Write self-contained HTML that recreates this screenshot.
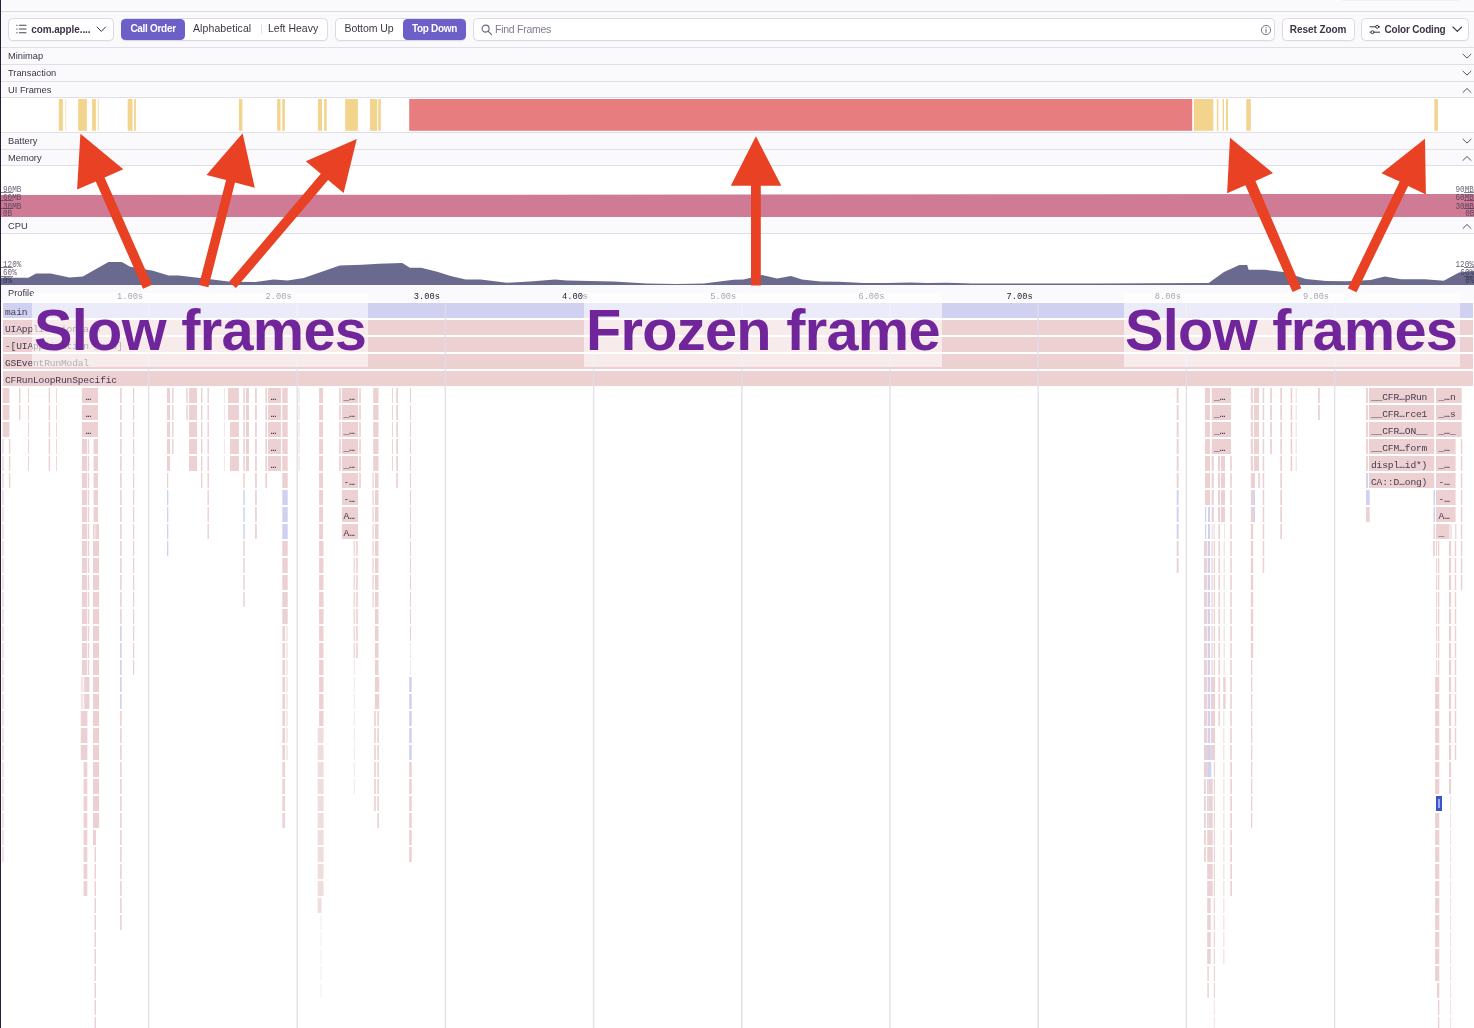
<!DOCTYPE html>
<html lang="en"><head><meta charset="utf-8"><title>Profile flamegraph</title>
<style>
html,body{margin:0;padding:0}
body{width:1474px;height:1028px;position:relative;overflow:hidden;background:#fff;font-family:"Liberation Sans",sans-serif;color:#3e3446}
div,i,b,span,svg{position:absolute;display:block;box-sizing:border-box}
span.g,span.t,span.e{position:static;display:inline}
span.e{letter-spacing:-3.9px;margin-left:-1.8px;margin-right:2px}
.bg{left:0;width:1474px;background:#faf9fb}
.hl{left:0;width:1474px;height:1.3px;background:#e2dee8}
.btn{background:#fff;border:1px solid #ddd8e4;border-radius:4.5px;top:18px;height:23px;box-shadow:0 1px 1px rgba(43,34,51,.03)}
.tx{white-space:nowrap;font-size:10.5px;line-height:12px;top:3.4px;color:#3e3446}
.tb{font-weight:bold;font-size:10px;top:4.7px;transform:scaleY(1.06);transform-origin:50% 60%}
.act{background:#6c5fc7;border-radius:4.5px;top:0;height:21px}
.act .tx{color:#fff;top:4px}
.pl{left:8px;font-size:9.3px;line-height:11px;color:#3e3446;white-space:nowrap}
.chev{left:1461.5px;width:10px;height:7px}
#fg{left:0;top:0;width:1474px;height:1028px}
.fl{font-family:"Liberation Mono",monospace;font-weight:normal;font-size:9.6px;letter-spacing:-.16px;line-height:11px;white-space:nowrap;margin-top:3.8px}
.fl .g{color:inherit}
.tl{font-family:"Liberation Mono",monospace;font-size:8.7px;line-height:11px;top:291.5px;width:60px;text-align:right;color:#2b2233;white-space:nowrap}
.ax{font-family:"Liberation Mono",monospace;font-size:9.5px;line-height:9px;color:rgba(62,52,80,.78);white-space:nowrap;transform:scaleX(.805);transform-origin:0 50%}
.axr{transform-origin:100% 50%}
.tick{height:1px;background:rgba(62,52,80,.62);left:1px;width:12px}
.gl{top:302.3px;width:1.4px;height:726px;background:rgba(214,208,224,.62)}
.ov{top:292.5px;height:74px;background:rgba(255,255,255,.58)}
.big{font-weight:bold;font-size:57.7px;line-height:60px;color:#70269a;white-space:nowrap;top:299.9px;letter-spacing:-.7px}
#all{left:0;top:0;width:1474px;height:1028px;will-change:transform}
</style></head><body>
<div id="all">
<!-- page backgrounds -->
<div class="bg" style="top:0;height:97.5px"></div>
<div class="bg" style="top:132px;height:34px"></div>
<div class="bg" style="top:217px;height:17px"></div>
<div class="bg" style="top:284.8px;height:17.6px"></div>
<!-- faint shadow of element above -->
<div style="left:1342px;top:0;width:118px;height:1px;background:#f3f1f5"></div>
<!-- horizontal rules -->
<div class="hl" style="top:10.8px;background:#dcd7e3"></div>
<div class="hl" style="top:46.6px"></div>
<div class="hl" style="top:63.8px"></div>
<div class="hl" style="top:80.9px"></div>
<div class="hl" style="top:97.2px"></div>
<div class="hl" style="top:131.9px"></div>
<div class="hl" style="top:148.9px"></div>
<div class="hl" style="top:164.8px"></div>
<div class="hl" style="top:233.1px"></div>

<!-- toolbar -->
<div class="btn" style="left:7.6px;width:106px">
  <svg style="left:7.5px;top:4.8px" width="11" height="10" viewBox="0 0 11 10"><g stroke="#4d4358" stroke-width="1.1" fill="none" stroke-linecap="round"><path d="M3.4 1.3H10M3.4 5H10M3.4 8.7H10"/><path d="M0.7 1.3H1.1M0.7 5H1.1M0.7 8.7H1.1"/></g></svg>
  <span class="tx tb" style="left:22.6px;letter-spacing:-.1px">com.apple....</span>
  <svg style="left:87.6px;top:7px" width="11" height="7" viewBox="0 0 11 7"><path d="M1 1l4.3 4.4L9.6 1" stroke="#3e3446" stroke-width="1" fill="none" stroke-linecap="round" stroke-linejoin="round"/></svg>
</div>
<div class="btn" style="left:121px;width:206.5px">
  <div class="act" style="left:-1px;width:64px"><span class="tx tb" style="left:9.4px;letter-spacing:-.3px">Call Order</span></div>
  <span class="tx" style="left:71px;letter-spacing:.09px">Alphabetical</span>
  <i style="left:138.6px;top:5.2px;width:1px;height:9.5px;background:#e4e0ea"></i>
  <span class="tx" style="left:146px;letter-spacing:0px">Left Heavy</span>
</div>
<div class="btn" style="left:335.3px;width:131px">
  <span class="tx" style="left:8.2px;letter-spacing:-.05px">Bottom Up</span>
  <div class="act" style="left:66.6px;width:63.4px"><span class="tx tb" style="left:9px;letter-spacing:-.3px">Top Down</span></div>
</div>
<div class="btn" style="left:473.3px;width:801.3px">
  <svg style="left:6.6px;top:5px" width="12" height="12" viewBox="0 0 12 12"><circle cx="4.6" cy="4.6" r="3.5" stroke="#6f6480" stroke-width="1.1" fill="none"/><path d="M7.3 7.3L10.6 10.6" stroke="#6f6480" stroke-width="1.2" stroke-linecap="round"/></svg>
  <span class="tx" style="left:20.8px;top:4.3px;color:#857993;letter-spacing:-.27px">Find Frames</span>
  <svg style="left:785.5px;top:4.6px" width="12" height="12" viewBox="0 0 12 12"><circle cx="6" cy="6" r="4.6" stroke="#6f6480" stroke-width=".9" fill="none"/><path d="M6 5.4V8.4" stroke="#6f6480" stroke-width="1" stroke-linecap="round"/><circle cx="6" cy="3.7" r=".6" fill="#6f6480"/></svg>
</div>
<div class="btn" style="left:1282.2px;width:72.5px"><span class="tx tb" style="left:6.6px;letter-spacing:-.06px">Reset Zoom</span></div>
<div class="btn" style="left:1361.4px;width:107.2px">
  <svg style="left:6.6px;top:5px" width="12" height="11" viewBox="0 0 12 11"><g stroke="#3e3446" stroke-width="1" fill="none" stroke-linecap="round"><path d="M1 2.8H6.6M9.8 2.8H10.6"/><circle cx="8.2" cy="2.8" r="1.5"/><path d="M5.6 8.2H10.6M1 8.2H1.6"/><circle cx="3.5" cy="8.2" r="1.5"/></g></svg>
  <span class="tx tb" style="left:22.2px;letter-spacing:-.2px">Color Coding</span>
  <svg style="left:89.6px;top:7.2px" width="11" height="7" viewBox="0 0 11 7"><path d="M1 1l4.3 4.4L9.6 1" stroke="#3e3446" stroke-width="1.1" fill="none" stroke-linecap="round" stroke-linejoin="round"/></svg>
</div>

<!-- panel labels -->
<span class="pl" style="top:51.1px">Minimap</span>
<span class="pl" style="top:68.2px">Transaction</span>
<span class="pl" style="top:85.3px">UI Frames</span>
<span class="pl" style="top:136.2px">Battery</span>
<span class="pl" style="top:153.2px">Memory</span>
<span class="pl" style="top:221.2px">CPU</span>
<span class="pl" style="top:287.6px">Profile</span>
<!-- chevrons -->
<svg class="chev" style="top:52.7px" viewBox="0 0 10 7"><path d="M1 1.2l4 3.9 4-3.9" stroke="#5b5066" stroke-width="1" fill="none" stroke-linecap="round" stroke-linejoin="round"/></svg>
<svg class="chev" style="top:69.8px" viewBox="0 0 10 7"><path d="M1 1.2l4 3.9 4-3.9" stroke="#5b5066" stroke-width="1" fill="none" stroke-linecap="round" stroke-linejoin="round"/></svg>
<svg class="chev" style="top:86.6px" viewBox="0 0 10 7"><path d="M1 5.4l4-3.9 4 3.9" stroke="#5b5066" stroke-width="1" fill="none" stroke-linecap="round" stroke-linejoin="round"/></svg>
<svg class="chev" style="top:137.8px" viewBox="0 0 10 7"><path d="M1 1.2l4 3.9 4-3.9" stroke="#5b5066" stroke-width="1" fill="none" stroke-linecap="round" stroke-linejoin="round"/></svg>
<svg class="chev" style="top:154.5px" viewBox="0 0 10 7"><path d="M1 5.4l4-3.9 4 3.9" stroke="#5b5066" stroke-width="1" fill="none" stroke-linecap="round" stroke-linejoin="round"/></svg>
<svg class="chev" style="top:222.5px" viewBox="0 0 10 7"><path d="M1 5.4l4-3.9 4 3.9" stroke="#5b5066" stroke-width="1" fill="none" stroke-linecap="round" stroke-linejoin="round"/></svg>

<!-- UI frames chart -->
<svg style="left:0;top:99px" width="1474" height="32" viewBox="0 0 1474 32" shape-rendering="auto">
<g fill="#f3d48c">
<rect x="58.8" y="0" width="4.1" height="31.8"/><rect x="65" y="0" width="1.4" height="31.8" opacity=".45"/>
<rect x="78.2" y="0" width="8.7" height="31.8"/>
<rect x="92.1" y="0" width="3.8" height="31.8"/><rect x="97.7" y="0" width="1.1" height="31.8" opacity=".7"/>
<rect x="127.7" y="0" width="4.8" height="31.8"/><rect x="134.1" y="0" width="1.8" height="31.8"/>
<rect x="239" y="0" width="3.4" height="31.8"/>
<rect x="277.2" y="0" width="3.3" height="31.8"/><rect x="282.3" y="0" width="2.6" height="31.8"/>
<rect x="317.9" y="0" width="4.1" height="31.8"/><rect x="324.1" y="0" width="2.6" height="31.8"/>
<rect x="345.2" y="0" width="12.7" height="31.8"/>
<rect x="370" y="0" width="7.2" height="31.8"/><rect x="378.2" y="0" width="2.6" height="31.8"/>
</g>
<rect x="409.2" y="0" width="783" height="31.8" fill="#e87d80"/>
<g fill="#f3d48c"><rect x="1193.9" y="0" width="19.4" height="31.8"/><rect x="1216.8" y="0" width="1.5" height="31.8"/><rect x="1222.6" y="0" width="1.4" height="31.8"/><rect x="1226.1" y="0" width="1.9" height="31.8"/><rect x="1246.3" y="0" width="4.5" height="31.8"/><rect x="1434.4" y="0" width="3.5" height="31.8"/></g>
</svg>

<div id="fg">
<svg style="left:0;top:0" width="1474" height="1028" viewBox="0 0 1474 1028"><path fill="#d0d0f1" d="M3 303.1h1470v14.9h-1470z"/>
<path fill="#ecd0d2" d="M3 320.1h1470v14.9h-1470zM3 337.1h1470v14.9h-1470zM3 354.1h1470v14.9h-1470zM3 371.1h1470v14.9h-1470zM2.8 388.1h6.6v14.9h-6.6zM2.8 405.1h6.6v14.9h-6.6zM2.8 422.1h6.6v14.9h-6.6zM2.3 439.1h1.2v14.9h-1.2zM2.3 456.1h1.2v14.9h-1.2zM2.3 473.1h1.2v14.9h-1.2zM2.3 490.1h1.2v14.9h-1.2zM2.3 507.1h1.2v14.9h-1.2zM2.3 524.1h1.2v14.9h-1.2zM2.3 541.1h1.2v14.9h-1.2zM2.3 558.1h1.2v14.9h-1.2zM2.3 575.1h1.2v14.9h-1.2zM2.3 592.1h1.2v14.9h-1.2zM2.3 609.1h1.2v14.9h-1.2zM2.3 626.1h1.2v14.9h-1.2zM2.3 643.1h1.2v14.9h-1.2zM2.3 660.1h1.2v14.9h-1.2zM2.3 677.1h1.2v14.9h-1.2zM2.3 694.1h1.2v14.9h-1.2zM2.3 711.1h1.2v14.9h-1.2zM2.3 728.1h1.2v14.9h-1.2zM2.3 745.1h1.2v14.9h-1.2zM2.3 762.1h1.2v14.9h-1.2zM2.3 779.1h1.2v14.9h-1.2zM2.3 796.1h1.2v14.9h-1.2zM2.3 813.1h1.2v14.9h-1.2zM2.3 830.1h1.2v14.9h-1.2zM2.3 847.1h1.2v14.9h-1.2zM8.9 439.1h1.4v14.9h-1.4zM8.9 456.1h1.4v14.9h-1.4zM8.9 473.1h1.4v14.9h-1.4zM19 388.1h1.4v14.9h-1.4zM19 405.1h1.4v14.9h-1.4zM28 388.1h0.9v14.9h-0.9zM28 405.1h0.9v14.9h-0.9zM28 422.1h0.9v14.9h-0.9zM28 439.1h0.9v14.9h-0.9zM28 456.1h0.9v14.9h-0.9zM48.7 388.1h1.4v14.9h-1.4zM48.7 405.1h1.4v14.9h-1.4zM48.7 422.1h1.4v14.9h-1.4zM48.7 439.1h1.4v14.9h-1.4zM48.7 456.1h1.4v14.9h-1.4zM56 388.1h0.8v14.9h-0.8zM56 405.1h0.8v14.9h-0.8zM56 422.1h0.8v14.9h-0.8zM56 439.1h0.8v14.9h-0.8zM56 456.1h0.8v14.9h-0.8zM81.9 388.1h16.1v14.9h-16.1zM81.9 405.1h16.1v14.9h-16.1zM81.9 422.1h16.1v14.9h-16.1zM81.9 439.1h5v14.9h-5zM81.9 456.1h5v14.9h-5zM81.9 473.1h5v14.9h-5zM81.9 490.1h5v14.9h-5zM81.9 507.1h5v14.9h-5zM81.9 524.1h5v14.9h-5zM81.9 541.1h5v14.9h-5zM81.9 558.1h5v14.9h-5zM81.9 575.1h5v14.9h-5zM81.9 592.1h5v14.9h-5zM81.9 609.1h5v14.9h-5zM81.9 626.1h5v14.9h-5zM81.9 643.1h5v14.9h-5zM81.9 660.1h5v14.9h-5zM87.8 439.1h1.4v14.9h-1.4zM87.8 456.1h1.4v14.9h-1.4zM87.8 473.1h1.4v14.9h-1.4zM87.8 490.1h1.4v14.9h-1.4zM87.8 507.1h1.4v14.9h-1.4zM87.8 524.1h1.4v14.9h-1.4zM87.8 541.1h1.4v14.9h-1.4zM87.8 558.1h1.4v14.9h-1.4zM87.8 575.1h1.4v14.9h-1.4zM87.8 592.1h1.4v14.9h-1.4zM87.8 609.1h1.4v14.9h-1.4zM87.8 626.1h1.4v14.9h-1.4zM87.8 643.1h1.4v14.9h-1.4zM87.8 660.1h1.4v14.9h-1.4z"/>
<path fill="#f4e4e5" d="M80.8 677.1h2.6v14.9h-2.6zM80.8 694.1h2.6v14.9h-2.6z"/>
<path fill="#ecd0d2" d="M84.2 677.1h5.2v14.9h-5.2zM84.2 694.1h5.2v14.9h-5.2zM80.8 711.1h6.6v14.9h-6.6zM80.8 728.1h6.6v14.9h-6.6zM80.8 745.1h6.6v14.9h-6.6zM83.6 762.1h3.7v14.9h-3.7zM83.6 779.1h3.7v14.9h-3.7zM83.6 796.1h3.7v14.9h-3.7zM83.6 813.1h3.7v14.9h-3.7zM83.6 830.1h3.7v14.9h-3.7zM83.6 847.1h3.7v14.9h-3.7zM83.6 864.1h3.7v14.9h-3.7zM83.6 881.1h3.7v14.9h-3.7zM93.6 439.1h4.4v14.9h-4.4zM93.6 456.1h4.4v14.9h-4.4zM93.6 473.1h4.4v14.9h-4.4zM93.6 490.1h4.4v14.9h-4.4zM93.6 507.1h4.4v14.9h-4.4zM93 524.1h6v14.9h-6z"/>
<path fill="#ffffff" d="M94.3 524.1h0.4v14.9h-0.4zM95.7 524.1h0.4v14.9h-0.4z"/>
<path fill="#ecd0d2" d="M93 541.1h6.1v14.9h-6.1zM93 558.1h6.1v14.9h-6.1zM93 575.1h6.1v14.9h-6.1zM93 592.1h6.1v14.9h-6.1zM93 609.1h6.1v14.9h-6.1zM93 626.1h6.1v14.9h-6.1zM93 643.1h6.1v14.9h-6.1zM93 660.1h6.1v14.9h-6.1zM93 677.1h6.1v14.9h-6.1zM93 694.1h6.1v14.9h-6.1zM93 711.1h6.1v14.9h-6.1zM93 728.1h6.1v14.9h-6.1zM93 745.1h6.1v14.9h-6.1zM93 762.1h6.1v14.9h-6.1zM93 779.1h6.1v14.9h-6.1zM93 796.1h6.1v14.9h-6.1zM93 813.1h6.1v14.9h-6.1zM93 830.1h3v14.9h-3zM94.6 847.1h1.4v14.9h-1.4zM94.6 864.1h1.4v14.9h-1.4zM94.6 881.1h1.4v14.9h-1.4zM94.6 898.1h1.4v14.9h-1.4zM94.6 915.1h1.4v14.9h-1.4zM94.6 932.1h1.4v14.9h-1.4zM94.6 949.1h1.4v14.9h-1.4zM94.6 966.1h1.4v14.9h-1.4zM94.6 983.1h1.4v14.9h-1.4zM94.6 1000.1h1.4v14.9h-1.4zM94.6 1017.1h1.4v14.9h-1.4zM120.1 388.1h1.6v14.9h-1.6zM120.1 405.1h1.6v14.9h-1.6zM120.1 422.1h1.6v14.9h-1.6zM120.1 439.1h1.6v14.9h-1.6zM120.1 456.1h1.6v14.9h-1.6zM120.1 473.1h1.6v14.9h-1.6zM120.1 490.1h1.6v14.9h-1.6zM120.1 507.1h1.6v14.9h-1.6zM120.1 524.1h1.6v14.9h-1.6zM120.1 541.1h1.6v14.9h-1.6zM120.1 558.1h1.6v14.9h-1.6zM120.1 575.1h1.6v14.9h-1.6zM120.1 592.1h1.6v14.9h-1.6zM120.1 609.1h1.6v14.9h-1.6z"/>
<path fill="#d0d0f1" d="M120.1 626.1h1.6v14.9h-1.6zM120.1 643.1h1.6v14.9h-1.6zM120.1 660.1h1.6v14.9h-1.6zM120.1 677.1h1.6v14.9h-1.6zM120.1 694.1h1.6v14.9h-1.6z"/>
<path fill="#ecd0d2" d="M120.1 711.1h1.6v14.9h-1.6zM120.1 728.1h1.6v14.9h-1.6zM120.1 745.1h1.6v14.9h-1.6zM120.1 762.1h1.6v14.9h-1.6zM120.1 779.1h1.6v14.9h-1.6zM120.1 796.1h1.6v14.9h-1.6zM120.1 813.1h1.6v14.9h-1.6zM120.1 830.1h1.6v14.9h-1.6zM120.1 847.1h1.6v14.9h-1.6zM120.1 864.1h1.6v14.9h-1.6zM120.1 881.1h1.6v14.9h-1.6zM120.1 898.1h1.6v14.9h-1.6zM120.1 915.1h1.6v14.9h-1.6zM132.9 388.1h1.3v14.9h-1.3zM132.9 405.1h1.3v14.9h-1.3zM132.9 422.1h1.3v14.9h-1.3zM132.9 439.1h1.3v14.9h-1.3zM132.9 456.1h1.3v14.9h-1.3zM132.9 473.1h1.3v14.9h-1.3zM132.9 490.1h1.3v14.9h-1.3zM132.9 507.1h1.3v14.9h-1.3zM132.9 524.1h1.3v14.9h-1.3zM132.9 541.1h1.3v14.9h-1.3zM132.9 558.1h1.3v14.9h-1.3zM132.9 575.1h1.3v14.9h-1.3zM132.9 592.1h1.3v14.9h-1.3zM132.9 609.1h1.3v14.9h-1.3zM132.9 626.1h1.3v14.9h-1.3zM132.9 643.1h1.3v14.9h-1.3zM132.9 660.1h1.3v14.9h-1.3zM167 388.1h3v14.9h-3zM167 405.1h3v14.9h-3zM167 422.1h3v14.9h-3zM167 439.1h3v14.9h-3zM167 456.1h3v14.9h-3zM167 473.1h1.2v14.9h-1.2z"/>
<path fill="#d0d0f1" d="M167 490.1h1.3v14.9h-1.3zM167 507.1h1.3v14.9h-1.3zM167 524.1h1.3v14.9h-1.3zM167 541.1h1.3v14.9h-1.3z"/>
<path fill="#ecd0d2" d="M172.1 388.1h1.4v14.9h-1.4zM172.1 405.1h1.4v14.9h-1.4zM172.1 422.1h1.4v14.9h-1.4zM172.1 439.1h1.4v14.9h-1.4zM186.3 388.1h1.4v14.9h-1.4zM186.3 405.1h1.4v14.9h-1.4zM189.1 388.1h8v14.9h-8zM189.1 405.1h8v14.9h-8zM189.1 422.1h8v14.9h-8zM189.1 439.1h8v14.9h-8zM189.1 456.1h8v14.9h-8zM201 388.1h1.4v14.9h-1.4zM201 405.1h1.4v14.9h-1.4zM201 422.1h1.4v14.9h-1.4zM201 439.1h1.4v14.9h-1.4zM201 456.1h1.4v14.9h-1.4zM201 473.1h1.4v14.9h-1.4zM207.5 388.1h1.4v14.9h-1.4zM207.5 405.1h1.4v14.9h-1.4zM207.5 422.1h1.4v14.9h-1.4zM207.5 439.1h1.4v14.9h-1.4zM207.5 456.1h1.4v14.9h-1.4zM207.5 473.1h1.4v14.9h-1.4zM207.5 490.1h1.4v14.9h-1.4zM207.5 507.1h1.4v14.9h-1.4zM207.5 524.1h1.4v14.9h-1.4z"/>
<path fill="#f4e4e5" d="M224 388.1h0.9v14.9h-0.9zM224 405.1h0.9v14.9h-0.9zM224 422.1h0.9v14.9h-0.9zM224 439.1h0.9v14.9h-0.9zM224 456.1h0.9v14.9h-0.9z"/>
<path fill="#ecd0d2" d="M228.1 388.1h1.9v14.9h-1.9zM228.1 405.1h1.9v14.9h-1.9zM230 388.1h8.9v14.9h-8.9zM230 405.1h8.9v14.9h-8.9zM230 422.1h8.9v14.9h-8.9zM230 439.1h8.9v14.9h-8.9zM230 456.1h8.9v14.9h-8.9zM243.3 388.1h1.5v14.9h-1.5zM243.3 405.1h1.5v14.9h-1.5zM243.3 422.1h1.5v14.9h-1.5zM243.3 439.1h1.5v14.9h-1.5zM243.3 456.1h1.5v14.9h-1.5zM243.3 473.1h1.5v14.9h-1.5z"/>
<path fill="#d0d0f1" d="M243.3 490.1h1.5v14.9h-1.5zM243.3 507.1h1.5v14.9h-1.5zM243.3 524.1h1.5v14.9h-1.5z"/>
<path fill="#ecd0d2" d="M243.3 541.1h1.5v14.9h-1.5zM243.3 558.1h1.5v14.9h-1.5zM243.3 575.1h1.5v14.9h-1.5zM243.3 592.1h1.5v14.9h-1.5zM246 388.1h3v14.9h-3zM246 405.1h3v14.9h-3zM246 422.1h3v14.9h-3zM246 439.1h3v14.9h-3zM246 456.1h3v14.9h-3zM255.1 388.1h1.7v14.9h-1.7zM255.1 405.1h1.7v14.9h-1.7zM255.1 422.1h1.7v14.9h-1.7zM255.1 439.1h1.7v14.9h-1.7zM255.1 456.1h1.7v14.9h-1.7zM255.1 473.1h1.7v14.9h-1.7zM255.1 490.1h1.7v14.9h-1.7zM255.1 507.1h1.7v14.9h-1.7zM255.1 524.1h1.7v14.9h-1.7zM265.4 388.1h1.6v14.9h-1.6zM265.4 405.1h1.6v14.9h-1.6zM265.4 422.1h1.6v14.9h-1.6zM265.4 439.1h1.6v14.9h-1.6zM265.4 456.1h1.6v14.9h-1.6zM265.4 473.1h1.6v14.9h-1.6zM268 388.1h12.9v14.9h-12.9zM268 405.1h12.9v14.9h-12.9zM268 422.1h12.9v14.9h-12.9zM268 439.1h12.9v14.9h-12.9zM268 456.1h12.9v14.9h-12.9zM282.3 388.1h5.4v14.9h-5.4zM282.3 405.1h5.4v14.9h-5.4zM282.3 422.1h5.4v14.9h-5.4zM282.3 439.1h5.4v14.9h-5.4zM282.3 456.1h5.4v14.9h-5.4zM282.3 473.1h5.4v14.9h-5.4z"/>
<path fill="#d0d0f1" d="M282.3 490.1h5.4v14.9h-5.4zM282.3 507.1h5.4v14.9h-5.4zM282.3 524.1h5.4v14.9h-5.4z"/>
<path fill="#ecd0d2" d="M282.3 541.1h5.4v14.9h-5.4zM282.3 558.1h5.4v14.9h-5.4zM282.3 575.1h5.4v14.9h-5.4zM282.3 592.1h5.4v14.9h-5.4zM282.3 609.1h5.4v14.9h-5.4zM282.4 626.1h2.6v14.9h-2.6zM282.4 643.1h2.6v14.9h-2.6zM282.4 660.1h2.6v14.9h-2.6zM282.4 677.1h2.6v14.9h-2.6zM282.4 694.1h2.6v14.9h-2.6zM282.4 711.1h2.6v14.9h-2.6zM282.4 728.1h2.6v14.9h-2.6zM282.4 745.1h2.6v14.9h-2.6zM282.4 762.1h2.6v14.9h-2.6zM282.4 779.1h2.6v14.9h-2.6zM282.4 796.1h2.6v14.9h-2.6zM282.4 813.1h2.6v14.9h-2.6z"/>
<path fill="#f4e4e5" d="M286.2 626.1h1.5v14.9h-1.5zM286.2 643.1h1.5v14.9h-1.5zM286.2 660.1h1.5v14.9h-1.5zM286.2 677.1h1.5v14.9h-1.5zM286.2 694.1h1.5v14.9h-1.5zM286.2 711.1h1.5v14.9h-1.5zM286.2 728.1h1.5v14.9h-1.5zM286.2 745.1h1.5v14.9h-1.5zM298.3 388.1h1.3v14.9h-1.3zM298.3 405.1h1.3v14.9h-1.3zM298.3 422.1h1.3v14.9h-1.3zM298.3 439.1h1.3v14.9h-1.3zM298.3 456.1h1.3v14.9h-1.3z"/>
<path fill="#ecd0d2" d="M319.1 388.1h3.9v14.9h-3.9zM319.1 405.1h3.9v14.9h-3.9zM319.1 422.1h3.9v14.9h-3.9zM319.1 439.1h3.9v14.9h-3.9zM319.1 456.1h3.9v14.9h-3.9zM319.1 473.1h3.9v14.9h-3.9zM319.1 490.1h3.9v14.9h-3.9zM319.1 507.1h3.9v14.9h-3.9zM319.1 524.1h3.9v14.9h-3.9zM319.1 541.1h4.4v14.9h-4.4zM319.1 558.1h4.4v14.9h-4.4zM319.1 575.1h4.4v14.9h-4.4zM319.1 592.1h4.4v14.9h-4.4zM319.1 609.1h4.4v14.9h-4.4zM319.1 626.1h4.4v14.9h-4.4zM319.1 643.1h4.4v14.9h-4.4zM319.1 660.1h4.4v14.9h-4.4zM319.1 677.1h4.4v14.9h-4.4zM319.1 694.1h4.4v14.9h-4.4zM319.1 711.1h4.4v14.9h-4.4z"/>
<path fill="#f0dcdd" d="M317.7 728.1h5.9v14.9h-5.9zM317.7 745.1h5.9v14.9h-5.9zM317.7 762.1h5.9v14.9h-5.9zM317.7 779.1h5.9v14.9h-5.9zM317.7 796.1h5.9v14.9h-5.9zM317.7 813.1h5.9v14.9h-5.9zM317.7 830.1h5.9v14.9h-5.9zM317.7 847.1h5.9v14.9h-5.9zM317.7 864.1h5.9v14.9h-5.9zM317.7 881.1h5.9v14.9h-5.9zM317.7 898.1h3.8v14.9h-3.8z"/>
<path fill="#f8eded" d="M320.5 915.1h1v14.9h-1zM320.5 932.1h1v14.9h-1zM320.5 949.1h1v14.9h-1zM320.5 966.1h1v14.9h-1zM320.5 983.1h1v14.9h-1z"/>
<path fill="#ecd0d2" d="M339.2 388.1h1.6v14.9h-1.6zM339.2 405.1h1.6v14.9h-1.6zM339.2 422.1h1.6v14.9h-1.6zM339.2 439.1h1.6v14.9h-1.6zM339.2 456.1h1.6v14.9h-1.6zM341.9 388.1h16.1v14.9h-16.1zM341.9 405.1h16.1v14.9h-16.1zM341.9 422.1h16.1v14.9h-16.1zM341.9 439.1h16.1v14.9h-16.1zM341.9 456.1h16.1v14.9h-16.1zM341.9 473.1h16.1v14.9h-16.1zM341.9 490.1h16.1v14.9h-16.1zM341.9 507.1h16.1v14.9h-16.1zM341.9 524.1h16.1v14.9h-16.1zM353.6 541.1h1.2v14.9h-1.2zM353.6 558.1h1.2v14.9h-1.2zM353.6 575.1h1.2v14.9h-1.2zM353.6 592.1h1.2v14.9h-1.2zM353.6 609.1h1.2v14.9h-1.2zM353.6 626.1h1.2v14.9h-1.2zM353.6 643.1h1.2v14.9h-1.2zM356.1 541.1h1.6v14.9h-1.6zM356.1 558.1h1.6v14.9h-1.6zM356.1 575.1h1.6v14.9h-1.6zM356.1 592.1h1.6v14.9h-1.6zM356.1 609.1h1.6v14.9h-1.6zM356.1 626.1h1.6v14.9h-1.6zM356.1 643.1h1.6v14.9h-1.6z"/>
<path fill="#f4e4e5" d="M353.8 660.1h0.9v14.9h-0.9zM353.8 677.1h0.9v14.9h-0.9zM353.8 694.1h0.9v14.9h-0.9zM353.8 711.1h0.9v14.9h-0.9zM353.8 728.1h0.9v14.9h-0.9zM353.8 745.1h0.9v14.9h-0.9zM353.8 762.1h0.9v14.9h-0.9zM353.8 779.1h0.9v14.9h-0.9z"/>
<path fill="#ecd0d2" d="M359.2 388.1h1.6v14.9h-1.6zM359.2 405.1h1.6v14.9h-1.6zM359.2 422.1h1.6v14.9h-1.6zM359.2 439.1h1.6v14.9h-1.6zM359.2 456.1h1.6v14.9h-1.6zM359.2 473.1h1.6v14.9h-1.6zM373.2 388.1h5.3v14.9h-5.3zM373.2 405.1h5.3v14.9h-5.3zM373.2 422.1h5.3v14.9h-5.3zM373.2 439.1h5.3v14.9h-5.3zM373.2 456.1h5.3v14.9h-5.3zM372.5 473.1h1.2v14.9h-1.2zM372.5 490.1h1.2v14.9h-1.2zM372.5 507.1h1.2v14.9h-1.2zM372.5 524.1h1.2v14.9h-1.2zM372.5 541.1h1.2v14.9h-1.2zM372.5 558.1h1.2v14.9h-1.2zM372.5 575.1h1.2v14.9h-1.2zM372.5 592.1h1.2v14.9h-1.2zM375 473.1h3.5v14.9h-3.5zM375 490.1h3.5v14.9h-3.5zM375 507.1h3.5v14.9h-3.5zM375 524.1h3.5v14.9h-3.5zM375 541.1h3.5v14.9h-3.5zM375 558.1h3.5v14.9h-3.5zM375 575.1h3.5v14.9h-3.5zM375 592.1h3.5v14.9h-3.5zM375 609.1h3.5v14.9h-3.5zM375 626.1h3.5v14.9h-3.5zM375 643.1h3.5v14.9h-3.5zM375 660.1h3.5v14.9h-3.5zM374.9 677.1h4.3v14.9h-4.3zM374.9 694.1h4.3v14.9h-4.3zM374.2 711.1h1.6v14.9h-1.6zM374.2 728.1h1.6v14.9h-1.6zM374.2 745.1h1.6v14.9h-1.6zM374.2 762.1h1.6v14.9h-1.6zM374.2 779.1h1.6v14.9h-1.6zM374.2 796.1h1.6v14.9h-1.6zM377.3 711.1h1.6v14.9h-1.6zM377.3 728.1h1.6v14.9h-1.6zM377.3 745.1h1.6v14.9h-1.6zM377.3 762.1h1.6v14.9h-1.6zM377.3 779.1h1.6v14.9h-1.6zM377.3 796.1h1.6v14.9h-1.6zM377.3 813.1h1.6v14.9h-1.6zM392 388.1h0.9v14.9h-0.9zM392 405.1h0.9v14.9h-0.9zM392 422.1h0.9v14.9h-0.9zM392 439.1h0.9v14.9h-0.9zM392 456.1h0.9v14.9h-0.9zM396.2 388.1h1.7v14.9h-1.7zM396.2 405.1h1.7v14.9h-1.7zM396.2 422.1h1.7v14.9h-1.7zM396.2 439.1h1.7v14.9h-1.7zM396.2 456.1h1.7v14.9h-1.7zM396.2 473.1h1.7v14.9h-1.7zM410 388.1h1v14.9h-1zM410 405.1h1v14.9h-1zM410 422.1h1v14.9h-1zM410 439.1h1v14.9h-1zM410 456.1h1v14.9h-1zM410 473.1h1v14.9h-1zM410 490.1h1v14.9h-1zM410 507.1h1v14.9h-1zM410 524.1h1v14.9h-1zM410 541.1h1v14.9h-1zM410 558.1h1v14.9h-1zM410 575.1h1v14.9h-1zM410 592.1h1v14.9h-1zM410 609.1h1v14.9h-1zM410 626.1h1v14.9h-1z"/>
<path fill="#e2e2f6" d="M410.2 643.1h0.7v14.9h-0.7zM410.2 660.1h0.7v14.9h-0.7z"/>
<path fill="#d0d0f1" d="M409.2 677.1h2.5v14.9h-2.5zM409.2 694.1h2.5v14.9h-2.5zM409.2 711.1h2.5v14.9h-2.5zM409.2 728.1h2.5v14.9h-2.5zM409.2 745.1h2.5v14.9h-2.5z"/>
<path fill="#ecd0d2" d="M409.2 762.1h2.5v14.9h-2.5zM409.2 779.1h2.5v14.9h-2.5zM409.2 796.1h2.5v14.9h-2.5zM409.2 813.1h2.5v14.9h-2.5zM409.2 830.1h2.5v14.9h-2.5zM409.2 847.1h2.5v14.9h-2.5zM1176.7 388.1h1.9v14.9h-1.9zM1176.7 405.1h1.9v14.9h-1.9zM1176.7 422.1h1.9v14.9h-1.9zM1176.7 439.1h1.9v14.9h-1.9zM1176.7 456.1h1.9v14.9h-1.9zM1176.7 473.1h1.9v14.9h-1.9z"/>
<path fill="#d0d0f1" d="M1176.7 490.1h1.9v14.9h-1.9zM1176.7 507.1h1.9v14.9h-1.9zM1176.7 524.1h1.9v14.9h-1.9z"/>
<path fill="#ecd0d2" d="M1176.7 541.1h1.9v14.9h-1.9zM1176.7 558.1h1.9v14.9h-1.9zM1205 388.1h5v14.9h-5zM1205 405.1h5v14.9h-5zM1205 422.1h5v14.9h-5zM1205 439.1h5v14.9h-5zM1205 456.1h5v14.9h-5zM1205 473.1h5v14.9h-5zM1205 490.1h5v14.9h-5z"/>
<path fill="#d0d0f1" d="M1205 507.1h1.2v14.9h-1.2zM1205 524.1h1.2v14.9h-1.2zM1208 507.1h2v14.9h-2zM1208 524.1h2v14.9h-2z"/>
<path fill="#ecd0d2" d="M1204 541.1h3.1v14.9h-3.1zM1204 558.1h3.1v14.9h-3.1zM1204 575.1h3.1v14.9h-3.1zM1204 592.1h3.1v14.9h-3.1zM1204 609.1h3.1v14.9h-3.1zM1204 626.1h3.1v14.9h-3.1zM1204 643.1h3.1v14.9h-3.1zM1204 660.1h3.1v14.9h-3.1zM1204 677.1h3.1v14.9h-3.1zM1204 694.1h3.1v14.9h-3.1zM1204 711.1h3.1v14.9h-3.1zM1204 728.1h3.1v14.9h-3.1zM1204 745.1h3.1v14.9h-3.1zM1204 762.1h3.1v14.9h-3.1z"/>
<path fill="#d0d0f1" d="M1207.7 541.1h2.3v14.9h-2.3zM1207.7 558.1h2.3v14.9h-2.3zM1207.7 575.1h2.3v14.9h-2.3zM1207.7 592.1h2.3v14.9h-2.3zM1207.7 609.1h2.3v14.9h-2.3zM1207.7 626.1h2.3v14.9h-2.3zM1207.7 643.1h2.3v14.9h-2.3zM1207.7 660.1h2.3v14.9h-2.3zM1207.7 677.1h2.3v14.9h-2.3zM1207.7 694.1h2.3v14.9h-2.3zM1207.7 711.1h2.3v14.9h-2.3zM1207.7 728.1h2.3v14.9h-2.3zM1207.1 745.1h3.7v14.9h-3.7zM1207.2 762.1h4.1v14.9h-4.1z"/>
<path fill="#ecd0d2" d="M1211.7 388.1h19.3v14.9h-19.3zM1211.7 405.1h19.3v14.9h-19.3zM1211.7 422.1h19.3v14.9h-19.3zM1211.7 439.1h19.3v14.9h-19.3zM1211.7 456.1h2.1v14.9h-2.1zM1211.7 473.1h2.1v14.9h-2.1zM1211.7 490.1h2.1v14.9h-2.1zM1211.7 507.1h2.1v14.9h-2.1zM1218 456.1h2v14.9h-2zM1218 473.1h2v14.9h-2zM1218 490.1h2v14.9h-2zM1218 507.1h2v14.9h-2zM1221 456.1h4v14.9h-4zM1221 473.1h4v14.9h-4zM1221 490.1h4v14.9h-4zM1221 507.1h4v14.9h-4zM1230.2 456.1h1.6v14.9h-1.6zM1230.2 473.1h1.6v14.9h-1.6zM1230.2 490.1h1.6v14.9h-1.6zM1230.2 507.1h1.6v14.9h-1.6zM1230.2 524.1h1.6v14.9h-1.6zM1230.2 541.1h1.6v14.9h-1.6zM1230.2 558.1h1.6v14.9h-1.6zM1230.2 575.1h1.6v14.9h-1.6zM1230.2 592.1h1.6v14.9h-1.6zM1230.2 609.1h1.6v14.9h-1.6zM1230.2 626.1h1.6v14.9h-1.6zM1230.2 643.1h1.6v14.9h-1.6zM1230.2 660.1h1.6v14.9h-1.6zM1230.2 677.1h1.6v14.9h-1.6zM1230.2 694.1h1.6v14.9h-1.6zM1230.2 711.1h1.6v14.9h-1.6zM1230.2 728.1h1.6v14.9h-1.6zM1230.2 745.1h1.6v14.9h-1.6zM1211.7 524.1h0.8v14.9h-0.8z"/>
<path fill="#f4e4e5" d="M1213.4 524.1h1.5v14.9h-1.5z"/>
<path fill="#ecd0d2" d="M1218.4 524.1h1.5v14.9h-1.5zM1218.4 541.1h1.5v14.9h-1.5zM1218.4 558.1h1.5v14.9h-1.5zM1218.4 575.1h1.5v14.9h-1.5zM1218.4 592.1h1.5v14.9h-1.5zM1218.4 609.1h1.5v14.9h-1.5zM1218.4 626.1h1.5v14.9h-1.5zM1218.4 643.1h1.5v14.9h-1.5zM1218.4 660.1h1.5v14.9h-1.5zM1218.4 677.1h1.5v14.9h-1.5zM1218.4 694.1h1.5v14.9h-1.5zM1218.4 711.1h1.5v14.9h-1.5z"/>
<path fill="#f4e4e5" d="M1224 524.1h1v14.9h-1z"/>
<path fill="#ecd0d2" d="M1211.5 541.1h1.2v14.9h-1.2zM1211.5 558.1h1.2v14.9h-1.2zM1211.5 575.1h1.2v14.9h-1.2zM1211.5 592.1h1.2v14.9h-1.2zM1211.5 609.1h1.2v14.9h-1.2zM1211.5 626.1h1.2v14.9h-1.2zM1211.5 643.1h1.2v14.9h-1.2zM1211.5 660.1h1.2v14.9h-1.2zM1213.7 541.1h1.3v14.9h-1.3zM1213.7 558.1h1.3v14.9h-1.3zM1213.7 575.1h1.3v14.9h-1.3zM1213.7 592.1h1.3v14.9h-1.3zM1213.7 609.1h1.3v14.9h-1.3zM1213.7 626.1h1.3v14.9h-1.3zM1213.7 643.1h1.3v14.9h-1.3zM1213.7 660.1h1.3v14.9h-1.3zM1210.8 677.1h4.2v14.9h-4.2zM1210.8 694.1h4.2v14.9h-4.2zM1210.8 711.1h4.2v14.9h-4.2zM1210.8 728.1h4.2v14.9h-4.2zM1210.8 745.1h4.2v14.9h-4.2z"/>
<path fill="#f4e4e5" d="M1223.6 541.1h1.4v14.9h-1.4zM1223.6 558.1h1.4v14.9h-1.4zM1223.6 575.1h1.4v14.9h-1.4zM1223.6 592.1h1.4v14.9h-1.4zM1223.6 609.1h1.4v14.9h-1.4zM1223.6 626.1h1.4v14.9h-1.4zM1223.6 643.1h1.4v14.9h-1.4zM1223.6 660.1h1.4v14.9h-1.4z"/>
<path fill="#ecd0d2" d="M1223.2 677.1h2.4v14.9h-2.4zM1223.2 694.1h2.4v14.9h-2.4z"/>
<path fill="#f4e4e5" d="M1223.1 711.1h1.4v14.9h-1.4zM1223.1 728.1h1.4v14.9h-1.4zM1223.1 745.1h1.4v14.9h-1.4zM1223.1 762.1h1.4v14.9h-1.4zM1223.1 779.1h1.4v14.9h-1.4zM1223.1 796.1h1.4v14.9h-1.4zM1223.1 813.1h1.4v14.9h-1.4zM1223.1 830.1h1.4v14.9h-1.4zM1223.1 847.1h1.4v14.9h-1.4zM1223.1 864.1h1.4v14.9h-1.4zM1223.1 881.1h1.4v14.9h-1.4zM1223.1 898.1h1.4v14.9h-1.4zM1223.1 915.1h1.4v14.9h-1.4zM1223.1 932.1h1.4v14.9h-1.4zM1223.1 949.1h1.4v14.9h-1.4z"/>
<path fill="#ecd0d2" d="M1230.3 762.1h1.7v14.9h-1.7zM1230.3 779.1h1.7v14.9h-1.7zM1230.3 796.1h1.7v14.9h-1.7zM1230.3 813.1h1.7v14.9h-1.7zM1230.3 830.1h1.7v14.9h-1.7zM1230.3 847.1h1.7v14.9h-1.7zM1230.3 864.1h1.7v14.9h-1.7zM1230.3 881.1h1.7v14.9h-1.7zM1204 779.1h1.8v14.9h-1.8zM1204 796.1h1.8v14.9h-1.8zM1204 813.1h1.8v14.9h-1.8zM1204 830.1h1.8v14.9h-1.8zM1204 847.1h1.8v14.9h-1.8z"/>
<path fill="#d0d0f1" d="M1207.2 779.1h1.3v14.9h-1.3zM1207.2 796.1h1.3v14.9h-1.3zM1207.2 813.1h1.3v14.9h-1.3z"/>
<path fill="#ecd0d2" d="M1208.5 779.1h4.2v14.9h-4.2zM1208.5 796.1h4.2v14.9h-4.2zM1208.5 813.1h4.2v14.9h-4.2zM1207.2 830.1h5.5v14.9h-5.5zM1207.2 847.1h5.5v14.9h-5.5zM1207.2 864.1h5.5v14.9h-5.5zM1207.2 881.1h5.5v14.9h-5.5zM1207.2 898.1h3.5v14.9h-3.5zM1207.2 915.1h3.5v14.9h-3.5zM1207.2 932.1h3.5v14.9h-3.5zM1207.2 949.1h3.5v14.9h-3.5zM1207.4 966.1h1.4v14.9h-1.4zM1207.4 983.1h1.4v14.9h-1.4zM1213.8 762.1h1.1v14.9h-1.1zM1213.8 779.1h1.1v14.9h-1.1zM1213.8 796.1h1.1v14.9h-1.1zM1213.8 813.1h1.1v14.9h-1.1zM1213.8 830.1h1.1v14.9h-1.1zM1213.8 847.1h1.1v14.9h-1.1zM1213.8 864.1h1.1v14.9h-1.1zM1213.8 881.1h1.1v14.9h-1.1zM1213.8 898.1h1.1v14.9h-1.1zM1213.8 915.1h1.1v14.9h-1.1zM1213.8 932.1h1.1v14.9h-1.1zM1213.8 949.1h1.1v14.9h-1.1zM1213.8 966.1h1.1v14.9h-1.1zM1213.8 983.1h1.1v14.9h-1.1z"/>
<path fill="#f4e4e5" d="M1213.8 1000.1h1.1v14.9h-1.1zM1213.8 1017.1h1.1v14.9h-1.1z"/>
<path fill="#ecd0d2" d="M1250.8 388.1h2.1v14.9h-2.1zM1250.8 405.1h2.1v14.9h-2.1zM1250.8 422.1h2.1v14.9h-2.1zM1250.8 439.1h2.1v14.9h-2.1zM1250.8 456.1h2.1v14.9h-2.1zM1254 388.1h5v14.9h-5zM1254 405.1h5v14.9h-5zM1254 422.1h5v14.9h-5zM1254 439.1h5v14.9h-5zM1254 456.1h5v14.9h-5zM1250.8 473.1h4.2v14.9h-4.2zM1258.2 473.1h1.7v14.9h-1.7zM1250.8 490.1h2.4v14.9h-2.4zM1250.8 507.1h2.4v14.9h-2.4zM1250.8 524.1h2.4v14.9h-2.4zM1250.8 541.1h2.4v14.9h-2.4zM1250.8 558.1h2.4v14.9h-2.4zM1250.8 575.1h2.4v14.9h-2.4zM1250.8 592.1h2.4v14.9h-2.4zM1250.8 609.1h2.4v14.9h-2.4zM1250.8 626.1h2.4v14.9h-2.4zM1250.8 643.1h2.4v14.9h-2.4z"/>
<path fill="#d0d0f1" d="M1253.2 490.1h1.8v14.9h-1.8zM1253.2 507.1h1.8v14.9h-1.8z"/>
<path fill="#ecd0d2" d="M1251 660.1h1.3v14.9h-1.3zM1251 677.1h1.3v14.9h-1.3zM1251 694.1h1.3v14.9h-1.3zM1251 711.1h1.3v14.9h-1.3zM1251 728.1h1.3v14.9h-1.3zM1251 745.1h1.3v14.9h-1.3zM1251 762.1h1.3v14.9h-1.3zM1251 779.1h1.3v14.9h-1.3zM1251 796.1h1.3v14.9h-1.3zM1251 813.1h1.3v14.9h-1.3zM1262.7 388.1h1.5v14.9h-1.5zM1262.7 405.1h1.5v14.9h-1.5zM1262.7 422.1h1.5v14.9h-1.5zM1262.7 439.1h1.5v14.9h-1.5zM1262.7 456.1h1.5v14.9h-1.5zM1262.7 473.1h1.5v14.9h-1.5zM1262.7 490.1h1.5v14.9h-1.5zM1262.7 507.1h1.5v14.9h-1.5zM1262.7 524.1h1.5v14.9h-1.5zM1262.7 541.1h1.5v14.9h-1.5zM1262.7 558.1h1.5v14.9h-1.5zM1270.2 388.1h1.7v14.9h-1.7zM1270.2 405.1h1.7v14.9h-1.7zM1270.2 422.1h1.7v14.9h-1.7zM1270.2 439.1h1.7v14.9h-1.7zM1280.3 388.1h1.7v14.9h-1.7zM1280.3 405.1h1.7v14.9h-1.7zM1280.3 422.1h1.7v14.9h-1.7zM1280.3 439.1h1.7v14.9h-1.7zM1280.3 456.1h1.7v14.9h-1.7zM1280.3 473.1h1.7v14.9h-1.7zM1280.3 490.1h1.7v14.9h-1.7zM1280.3 507.1h1.7v14.9h-1.7zM1280.3 524.1h1.7v14.9h-1.7zM1290.6 388.1h1.7v14.9h-1.7zM1290.6 405.1h1.7v14.9h-1.7zM1290.6 422.1h1.7v14.9h-1.7zM1290.6 439.1h1.7v14.9h-1.7zM1290.6 456.1h1.7v14.9h-1.7z"/>
<path fill="#f4e4e5" d="M1295.6 388.1h1.3v14.9h-1.3zM1295.6 405.1h1.3v14.9h-1.3zM1295.6 422.1h1.3v14.9h-1.3zM1295.6 439.1h1.3v14.9h-1.3zM1295.6 456.1h1.3v14.9h-1.3z"/>
<path fill="#ecd0d2" d="M1318 388.1h1.8v14.9h-1.8zM1318 405.1h1.8v14.9h-1.8zM1366.1 388.1h1.8v14.9h-1.8zM1366.1 405.1h1.8v14.9h-1.8zM1366.1 422.1h1.8v14.9h-1.8zM1366.1 439.1h1.8v14.9h-1.8zM1366.1 456.1h1.8v14.9h-1.8z"/>
<path fill="#d0d0f1" d="M1366.1 473.1h1.8v14.9h-1.8zM1366.1 490.1h3.6v14.9h-3.6z"/>
<path fill="#ecd0d2" d="M1366.1 507.1h3.6v14.9h-3.6zM1369 388.1h65.2v14.9h-65.2zM1369 405.1h65.2v14.9h-65.2zM1369 422.1h65.2v14.9h-65.2zM1369 439.1h65.2v14.9h-65.2zM1369 456.1h65.2v14.9h-65.2zM1369 473.1h65.2v14.9h-65.2zM1436 388.1h25.7v14.9h-25.7zM1436 405.1h25.7v14.9h-25.7zM1436 422.1h25.7v14.9h-25.7zM1436 439.1h19.6v14.9h-19.6zM1436 456.1h19.6v14.9h-19.6zM1436 473.1h19.6v14.9h-19.6zM1436 490.1h19.6v14.9h-19.6zM1436 507.1h19.6v14.9h-19.6z"/>
<path fill="#d0d0f1" d="M1433.5 490.1h1.5v14.9h-1.5zM1433.5 507.1h1.5v14.9h-1.5z"/>
<path fill="#ecd0d2" d="M1436 524.1h13.5v14.9h-13.5z"/>
<path fill="#f4e4e5" d="M1449.5 524.1h2.5v14.9h-2.5z"/>
<path fill="#ecd0d2" d="M1433.5 524.1h1.5v14.9h-1.5zM1455.2 524.1h1.2v14.9h-1.2zM1460.8 439.1h1.5v14.9h-1.5zM1460.8 456.1h1.5v14.9h-1.5zM1460.8 473.1h1.5v14.9h-1.5zM1460.8 490.1h1.5v14.9h-1.5zM1460.8 507.1h1.5v14.9h-1.5zM1460.8 524.1h1.5v14.9h-1.5zM1460.8 541.1h1.5v14.9h-1.5zM1460.8 558.1h1.5v14.9h-1.5zM1460.8 575.1h1.5v14.9h-1.5zM1433.1 541.1h1.7v14.9h-1.7zM1436 541.1h0.9v14.9h-0.9zM1436 558.1h0.9v14.9h-0.9zM1436 575.1h0.9v14.9h-0.9zM1436 592.1h0.9v14.9h-0.9zM1436 609.1h0.9v14.9h-0.9zM1436 626.1h0.9v14.9h-0.9zM1436 643.1h0.9v14.9h-0.9zM1436 660.1h0.9v14.9h-0.9zM1437.9 541.1h1.4v14.9h-1.4zM1437.9 558.1h1.4v14.9h-1.4zM1437.9 575.1h1.4v14.9h-1.4zM1437.9 592.1h1.4v14.9h-1.4zM1437.9 609.1h1.4v14.9h-1.4zM1437.9 626.1h1.4v14.9h-1.4zM1437.9 643.1h1.4v14.9h-1.4zM1437.9 660.1h1.4v14.9h-1.4zM1435.1 677.1h4.2v14.9h-4.2zM1435.1 694.1h4.2v14.9h-4.2zM1435.1 711.1h4.2v14.9h-4.2zM1435.1 728.1h4.2v14.9h-4.2zM1435.1 745.1h4.2v14.9h-4.2zM1435.1 762.1h4.2v14.9h-4.2zM1435.1 779.1h4.2v14.9h-4.2zM1435.1 813.1h4.2v14.9h-4.2zM1435.1 830.1h4.2v14.9h-4.2zM1435.1 847.1h4.2v14.9h-4.2zM1435.1 864.1h4.2v14.9h-4.2zM1435.1 881.1h4.2v14.9h-4.2zM1435.1 898.1h4.2v14.9h-4.2zM1435.1 915.1h4.2v14.9h-4.2zM1435.1 932.1h4.2v14.9h-4.2zM1435.1 949.1h4.2v14.9h-4.2zM1435.1 966.1h4.2v14.9h-4.2zM1437 983.1h2.3v14.9h-2.3zM1437.9 1000.1h1.4v14.9h-1.4zM1437.9 1017.1h1.4v14.9h-1.4zM1449 541.1h2.1v14.9h-2.1zM1449 558.1h2.1v14.9h-2.1zM1449 575.1h2.1v14.9h-2.1zM1449 592.1h2.1v14.9h-2.1zM1449 609.1h2.1v14.9h-2.1zM1449 626.1h2.1v14.9h-2.1zM1449 643.1h2.1v14.9h-2.1zM1449 660.1h2.1v14.9h-2.1zM1449 677.1h2.1v14.9h-2.1zM1449 694.1h2.1v14.9h-2.1zM1449 711.1h2.1v14.9h-2.1zM1449 728.1h2.1v14.9h-2.1zM1449 745.1h2.1v14.9h-2.1zM1449 762.1h2.1v14.9h-2.1zM1449 779.1h2.1v14.9h-2.1z"/>
<path fill="#f4e4e5" d="M1450 796.1h1.2v14.9h-1.2zM1450 813.1h1.2v14.9h-1.2zM1450 830.1h1.2v14.9h-1.2zM1450 847.1h1.2v14.9h-1.2zM1450 864.1h1.2v14.9h-1.2zM1450 881.1h1.2v14.9h-1.2zM1450 898.1h1.2v14.9h-1.2zM1450 915.1h1.2v14.9h-1.2zM1450 932.1h1.2v14.9h-1.2zM1450 949.1h1.2v14.9h-1.2zM1450 966.1h1.2v14.9h-1.2zM1450 983.1h1.2v14.9h-1.2zM1450 1000.1h1.2v14.9h-1.2zM1450 1017.1h1.2v14.9h-1.2z"/>
<path fill="#ecd0d2" d="M1454.8 541.1h1.4v14.9h-1.4zM1454.8 558.1h1.4v14.9h-1.4zM1454.8 575.1h1.4v14.9h-1.4zM1454.8 592.1h1.4v14.9h-1.4zM1454.8 609.1h1.4v14.9h-1.4zM1454.8 626.1h1.4v14.9h-1.4zM1454.8 643.1h1.4v14.9h-1.4zM1454.8 660.1h1.4v14.9h-1.4zM1454.8 677.1h1.4v14.9h-1.4zM1454.8 694.1h1.4v14.9h-1.4zM1454.8 711.1h1.4v14.9h-1.4zM1454.8 728.1h1.4v14.9h-1.4zM1454.8 745.1h1.4v14.9h-1.4z"/></svg>
<b class="fl" style="left:5px;top:303.1px;color:#443b4f">main</b>
<b class="fl" style="left:5px;top:320.1px;color:#443b4f">UIApp<span class="g">licationMain</span></b>
<b class="fl" style="left:5px;top:337.1px;color:#443b4f">-[UIA<span class="g">pplication _run]</span></b>
<b class="fl" style="left:5px;top:354.1px;color:#443b4f">GSEve<span class="g">ntRunModal</span></b>
<b class="fl" style="left:5px;top:371.1px;color:#443b4f">CFRunLoopRunSpecific</b>
<b class="fl" style="left:85.5px;top:388.1px;color:#443b4f"><span class="e">...</span></b>
<b class="fl" style="left:85.5px;top:405.1px;color:#443b4f"><span class="e">...</span></b>
<b class="fl" style="left:85.5px;top:422.1px;color:#443b4f"><span class="e">...</span></b>
<b class="fl" style="left:270.5px;top:388.1px;color:#443b4f"><span class="e">...</span></b>
<b class="fl" style="left:270.5px;top:405.1px;color:#443b4f"><span class="e">...</span></b>
<b class="fl" style="left:270.5px;top:422.1px;color:#443b4f"><span class="e">...</span></b>
<b class="fl" style="left:270.5px;top:439.1px;color:#443b4f"><span class="e">...</span></b>
<b class="fl" style="left:270.5px;top:456.1px;color:#443b4f"><span class="e">...</span></b>
<b class="fl" style="left:343.5px;top:388.1px;color:#443b4f">_<span class="e">...</span></b>
<b class="fl" style="left:343.5px;top:405.1px;color:#443b4f">_<span class="e">...</span></b>
<b class="fl" style="left:343.5px;top:422.1px;color:#443b4f">_<span class="e">...</span></b>
<b class="fl" style="left:343.5px;top:439.1px;color:#443b4f">_<span class="e">...</span></b>
<b class="fl" style="left:343.5px;top:456.1px;color:#443b4f">_<span class="e">...</span></b>
<b class="fl" style="left:343.5px;top:473.1px;color:#443b4f">-<span class="e">...</span></b>
<b class="fl" style="left:343.5px;top:490.1px;color:#443b4f">-<span class="e">...</span></b>
<b class="fl" style="left:343.5px;top:507.1px;color:#443b4f">A<span class="e">...</span></b>
<b class="fl" style="left:343.5px;top:524.1px;color:#443b4f">A<span class="e">...</span></b>
<b class="fl" style="left:1214px;top:388.1px;color:#443b4f">_<span class="e">...</span></b>
<b class="fl" style="left:1214px;top:405.1px;color:#443b4f">_<span class="e">...</span></b>
<b class="fl" style="left:1214px;top:422.1px;color:#443b4f">_<span class="e">...</span></b>
<b class="fl" style="left:1214px;top:439.1px;color:#443b4f">_<span class="e">...</span></b>
<b class="fl" style="left:1371px;top:388.1px;color:#443b4f">__CFR<span class="e">...</span>pRun</b>
<b class="fl" style="left:1371px;top:405.1px;color:#443b4f">__CFR<span class="e">...</span>rce1</b>
<b class="fl" style="left:1371px;top:422.1px;color:#443b4f">__CFR<span class="e">...</span>ON__</b>
<b class="fl" style="left:1371px;top:439.1px;color:#443b4f">__CFM<span class="e">...</span>form</b>
<b class="fl" style="left:1371px;top:456.1px;color:#443b4f">displ<span class="e">...</span>id*)</b>
<b class="fl" style="left:1371px;top:473.1px;color:#443b4f">CA::D<span class="e">...</span>ong)</b>
<b class="fl" style="left:1438.5px;top:388.1px;color:#443b4f">_<span class="e">...</span>n</b>
<b class="fl" style="left:1438.5px;top:405.1px;color:#443b4f">_<span class="e">...</span>s</b>
<b class="fl" style="left:1438.5px;top:422.1px;color:#443b4f">_<span class="e">...</span>_</b>
<b class="fl" style="left:1438.5px;top:439.1px;color:#443b4f">_<span class="e">...</span></b>
<b class="fl" style="left:1438.5px;top:456.1px;color:#443b4f">_<span class="e">...</span></b>
<b class="fl" style="left:1438.5px;top:473.1px;color:#443b4f">-<span class="e">...</span></b>
<b class="fl" style="left:1438.5px;top:490.1px;color:#443b4f">-<span class="e">...</span></b>
<b class="fl" style="left:1438.5px;top:507.1px;color:#443b4f">A<span class="e">...</span></b>
<b class="fl" style="left:1438.5px;top:524.1px;color:#443b4f">_</b>
</div>
<!-- grid lines -->
<svg style="left:0;top:0" width="1474" height="1028" viewBox="0 0 1474 1028"><g fill="#e0dde8" fill-opacity=".92"><rect x="147.9" y="302.3" width="1.4" height="726"/><rect x="296.5" y="302.3" width="1.4" height="726"/><rect x="444.7" y="302.3" width="1.4" height="726"/><rect x="592.9" y="302.3" width="1.4" height="726"/><rect x="741.1" y="302.3" width="1.4" height="726"/><rect x="889.3" y="302.3" width="1.4" height="726"/><rect x="1037.5" y="302.3" width="1.4" height="726"/><rect x="1185.7" y="302.3" width="1.4" height="726"/><rect x="1333.9" y="302.3" width="1.4" height="726"/></g></svg>
<!-- time labels -->
<span class="tl" style="left:83.1px">1.00s</span><span class="tl" style="left:231.7px">2.00s</span><span class="tl" style="left:379.9px">3.00s</span><span class="tl" style="left:528.1px">4.00s</span><span class="tl" style="left:676.3px">5.00s</span><span class="tl" style="left:824.5px">6.00s</span><span class="tl" style="left:972.7px">7.00s</span><span class="tl" style="left:1120.9px">8.00s</span><span class="tl" style="left:1269.1px">9.00s</span>

<!-- memory chart -->
<svg style="left:0;top:190px" width="1474" height="30" viewBox="0 190 1474 30"><path fill="#cf7b96" d="M0 194.9L400 194.7L740 194.5L1100 194.2L1474 193.9L1474 216.9L0 216.9Z"/></svg>
<!-- cpu chart -->
<svg style="left:0;top:234px" width="1474" height="51" viewBox="0 234 1474 51"><path fill="#696a8d" d="M0 285L0 277.7L28.4 277.7L36 273.4L50.7 273.4L69.4 277.4L82.8 276.4L108.5 262L121.8 262L130.2 266.7L152.9 270.7L168.6 275.4L178.6 275.4L200.3 278L230.3 281.7L255.3 282L273.7 279.4L287.7 280.4L303.7 278L339.8 265.4L362.1 264.7L378.8 263.7L402.2 263L409.9 267.7L421.2 267.7L437.2 271.7L450.6 276L465.6 279.4L480.6 279.4L506.7 282.7L530 281.4L555 279.4L566.8 280.4L613.5 281.4L646.9 283.4L677 284L703.6 283.4L733.7 279.7L743.7 279.4L762 275L777 278.4L791 276L802 279.4L820.5 281.4L838.8 281.7L863.9 283L887 283L910.6 282.4L927 283L947 282.7L972 283.6L1094.6 283.4L1208.7 283L1224 272.1L1239.4 265L1247.2 265L1248.6 269.8L1265 269.8L1283.6 272.1L1305.8 279L1326.2 281L1346.7 281.3L1370.5 280L1384.8 276.6L1401.2 279.3L1425 279.3L1443.7 280.7L1459 272.5L1474 271L1474 285Z"/></svg>
<!-- axis labels -->
<i class="tick" style="top:192px"></i><i class="tick" style="top:200px"></i><i class="tick" style="top:208.2px"></i>
<span class="ax" style="left:2.7px;top:185.3px">90MB</span><span class="ax" style="left:2.7px;top:192.9px">60MB</span><span class="ax" style="left:2.7px;top:201.6px">30MB</span><span class="ax" style="left:2.7px;top:209.0px">0B</span>
<i class="tick" style="top:192px;left:1464px;width:10px"></i><i class="tick" style="top:200px;left:1464px;width:10px"></i><i class="tick" style="top:208.2px;left:1464px;width:10px"></i>
<span class="ax axr" style="right:0;top:185.3px">90MB</span><span class="ax axr" style="right:0;top:192.9px">60MB</span><span class="ax axr" style="right:0;top:201.6px">30MB</span><span class="ax axr" style="right:0;top:209.0px">0B</span>
<i class="tick" style="top:267.4px"></i><i class="tick" style="top:275.8px"></i>
<span class="ax" style="left:2.7px;top:259.5px">120%</span><span class="ax" style="left:2.7px;top:268px">60%</span><span class="ax" style="left:2.7px;top:276.2px;color:rgba(40,32,60,.75)">0%</span>
<i class="tick" style="top:267.4px;left:1464px;width:10px"></i><i class="tick" style="top:275.8px;left:1464px;width:10px"></i>
<span class="ax axr" style="right:0;top:259.5px">120%</span><span class="ax axr" style="right:0;top:268px">60%</span><span class="ax axr" style="right:0;top:276.2px;color:rgba(40,32,60,.75)">0%</span>

<!-- selected frame -->
<i style="left:1435.6px;top:796.3px;width:6.3px;height:14.6px;background:#3457cf"></i><i style="left:1438px;top:799px;width:1.6px;height:9px;background:#a9a8de"></i>

<!-- annotation overlays -->
<div class="ov" style="left:32.2px;width:335.8px"></div>
<div class="ov" style="left:584px;width:358px"></div>
<div class="ov" style="left:1124px;width:336px"></div>
<span class="big" style="left:34px">Slow frames</span>
<span class="big" style="left:586px">Frozen frame</span>
<span class="big" style="left:1125px">Slow frames</span>

<!-- arrows -->
<svg style="left:0;top:0" width="1474" height="310" viewBox="0 0 1474 310"><g fill="#e84123">
<path d="M80.4 133.7L123.3 169.2L104.6 177.6L152 284.8L143 288.7L95.8 181.4L77.1 189.4Z"/>
<path d="M242.6 133.2L254.8 187.8L235 182.4L208.4 287.3L199 285.1L226.1 180.1L206.5 175.1Z"/>
<path d="M356.8 139L343.6 193L328.1 180.1L236 288.1L228.9 282L320.8 173.8L305.8 161.2Z"/>
<path d="M755.9 136.3L781.3 185.8L760.8 185.8L760.8 285.5L751 285.5L751 185.8L730.8 185.8Z"/>
<path d="M1230 137.7L1273 173.1L1255.5 180.9L1301.2 288.2L1292.6 291.9L1245.4 185.3L1227.1 193.2Z"/>
<path d="M1425 138.7L1425.9 194.4L1408.2 186L1356.5 292.3L1347.9 288.3L1399.7 181.6L1381.4 173.2Z"/>
</g></svg>

<!-- left window edge -->
<div style="left:0;top:0;width:1.1px;height:1028px;background:#2b1d38"></div>
</div><!--all-->
</body></html>
